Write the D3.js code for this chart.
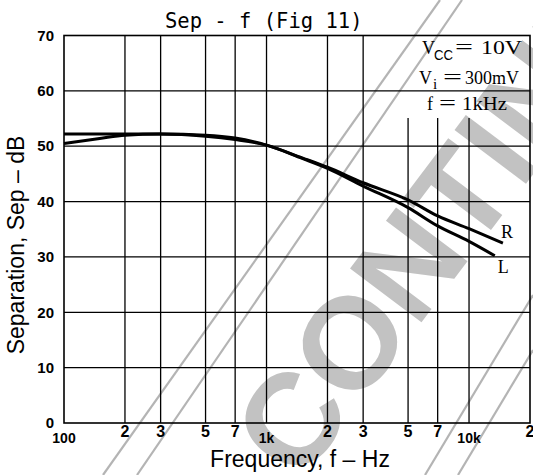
<!DOCTYPE html>
<html>
<head>
<meta charset="utf-8">
<script src="https://cdn.jsdelivr.net/npm/d3@7"></script>
<style>
  body { margin: 0; background: #fff; }
  svg { display: block; }
</style>
</head>
<body>
<svg id="chart" width="533" height="475"></svg>
<script>
// values
let freqR = [100, 150, 200, 300, 500, 700, 1000, 1500, 2000, 3000, 5000, 7000, 10000, 14700];
let sepR  = [50.5, 51.4, 52.0, 52.2, 52.0, 51.5, 50.2, 47.9, 46.2, 43.4, 40.3, 37.4, 35.1, 32.5];
let freqL = [100, 150, 200, 300, 500, 700, 1000, 1500, 2000, 3000, 5000, 7000, 10000, 13400];
let sepL  = [52.2, 52.2, 52.2, 52.2, 51.8, 51.2, 50.2, 47.8, 46.0, 42.8, 38.9, 35.6, 32.8, 30.2];

let xTickValues = [100, 200, 300, 500, 700, 1000, 2000, 3000, 5000, 7000, 10000, 20000];
let xTickLabels = ['100', '2', '3', '5', '7', '1k', '2', '3', '5', '7', '10k', '2'];
let yTickValues = [0, 10, 20, 30, 40, 50, 60, 70];

let svg = d3.select('#chart');

let plotLeft = 64, plotRight = 530, plotTop = 35.5, plotBottom = 423;

let x = d3.scaleLog()
    .domain([100, 20000])
    .range([plotLeft, plotRight]);

let y = d3.scaleLinear()
    .domain([0, 70])
    .range([plotBottom, plotTop]);

//watermark behind everything
let wm = svg.append('g').attr('class', 'watermark');

[[103, 475, 440, 0], [137, 475, 462, 0], [425, 475, 533, 295], [458, 475, 533, 350]]
  .forEach(function(l){
    wm.append('line')
      .attr('x1', l[0]).attr('y1', l[1])
      .attr('x2', l[2]).attr('y2', l[3])
      .attr('stroke', '#b4b4b4')
      .attr('stroke-width', 2.2);
  });

wm.append('text')
    .attr('transform', 'translate(299,485) rotate(-53)')
    .attr('font-family', 'Liberation Sans, Arial, sans-serif')
    .attr('font-weight', 'bold')
    .attr('font-size', 130)
    .attr('fill', '#c2c2c2')
    .text('CONTINUED');

//grid
let grid = svg.append('g').attr('class', 'grid');

grid.selectAll('.vgrid')
  .data(xTickValues.slice(1, -1))
  .enter().append('line')
    .attr('class', 'vgrid')
    .attr('x1', function(d){ return x(d); })
    .attr('x2', function(d){ return x(d); })
    //the parameter box cuts the high frequency lines
    .attr('y1', function(d){ return d >= 4000 ? 118 : plotTop; })
    .attr('y2', plotBottom)
    .attr('stroke', '#000')
    .attr('stroke-width', 1.3);

grid.selectAll('.hgrid')
  .data(yTickValues.slice(1, -1))
  .enter().append('line')
    .attr('class', 'hgrid')
    .attr('x1', plotLeft)
    .attr('x2', plotRight)
    .attr('y1', function(d){ return y(d); })
    .attr('y2', function(d){ return y(d); })
    .attr('stroke', '#000')
    .attr('stroke-width', 1.3);

svg.append('rect')
    .attr('x', plotLeft)
    .attr('y', plotTop)
    .attr('width', plotRight - plotLeft)
    .attr('height', plotBottom - plotTop)
    .attr('fill', 'none')
    .attr('stroke', '#000')
    .attr('stroke-width', 1.6);

//tick labels
let tickFont = "'Liberation Sans Narrow', 'Liberation Sans', Arial, sans-serif";

svg.append('g')
  .selectAll('text')
  .data(xTickValues)
  .enter().append('text')
    .attr('x', function(d){ return x(d); })
    .attr('y', function(d, i){ return /[0k]$/.test(xTickLabels[i]) ? 443 : 437; })
    .attr('text-anchor', 'middle')
    .attr('font-family', tickFont)
    .attr('font-weight', 'bold')
    .attr('font-size', function(d, i){ return /[0k]$/.test(xTickLabels[i]) ? 14 : 16; })
    .text(function(d, i){ return xTickLabels[i]; });

svg.append('g')
  .selectAll('text')
  .data(yTickValues)
  .enter().append('text')
    .attr('x', 54)
    .attr('y', function(d){ return y(d); })
    .attr('dy', '0.35em')
    .attr('text-anchor', 'end')
    .attr('font-family', tickFont)
    .attr('font-weight', 'bold')
    .attr('font-size', 15)
    .text(function(d){ return d; });

//axis titles
svg.append('text')
    .attr('x', 165)
    .attr('y', 28)
    .attr('font-family', 'DejaVu Sans Mono, monospace')
    .attr('font-size', 20.5)
    .attr('fill', '#000')
    .text('Sep - f (Fig 11)');

svg.append('text')
    .attr('x', 300)
    .attr('y', 467)
    .attr('text-anchor', 'middle')
    .attr('font-family', 'Liberation Sans, Arial, sans-serif')
    .attr('font-size', 23)
    .text('Frequency, f \u2013 Hz');

svg.append('text')
    .attr('transform', 'translate(24,245) rotate(-90)')
    .attr('text-anchor', 'middle')
    .attr('font-family', 'Liberation Sans, Arial, sans-serif')
    .attr('font-size', 23)
    .text('Separation, Sep \u2013 dB');

//conditions, each piece placed like the typed original
let cond = svg.append('g')
    .attr('font-family', 'Liberation Serif, serif')
    .attr('font-size', 18);

function condPart(txt, px, py, len, size){
  let t = cond.append('text')
      .attr('x', px)
      .attr('y', py)
      .text(txt);
  if(len){ t.attr('textLength', len).attr('lengthAdjust', 'spacingAndGlyphs'); }
  if(size){ t.attr('font-size', size); }
  return t;
}

condPart('V', 422, 54);
condPart('CC', 434, 60, 19, 15).attr('font-family', 'Liberation Sans, sans-serif');
condPart('=', 455, 54, 18, 20);
condPart('10V', 481, 54, 41);

condPart('V', 419, 84);
condPart('i', 433, 89, null, 15);
condPart('=', 443, 84, 19, 20);
condPart('300mV', 465, 84, 54);

condPart('f', 427, 110);
condPart('=', 439, 110, 17, 20);
condPart('1kHz', 462, 110, 45);

//curves
let line = d3.line()
    .x(function(d){ return x(d[0]); })
    .y(function(d){ return y(d[1]); })
    .curve(d3.curveMonotoneX);

[[freqR, sepR], [freqL, sepL]].forEach(function(s){
  svg.append('path')
      .datum(d3.zip(s[0], s[1]))
      .attr('d', line)
      .attr('fill', 'none')
      .attr('stroke', '#000')
      .attr('stroke-width', 3);
});

svg.append('text')
    .attr('x', x(freqR[freqR.length - 1]) - 2)
    .attr('y', y(sepR[sepR.length - 1]) - 5)
    .attr('font-family', 'Liberation Serif, serif')
    .attr('font-size', 18)
    .text('R');

svg.append('text')
    .attr('x', x(freqL[freqL.length - 1]) + 3)
    .attr('y', y(sepL[sepL.length - 1]) + 17)
    .attr('font-family', 'Liberation Serif, serif')
    .attr('font-size', 18)
    .text('L');
</script>
</body>
</html>
